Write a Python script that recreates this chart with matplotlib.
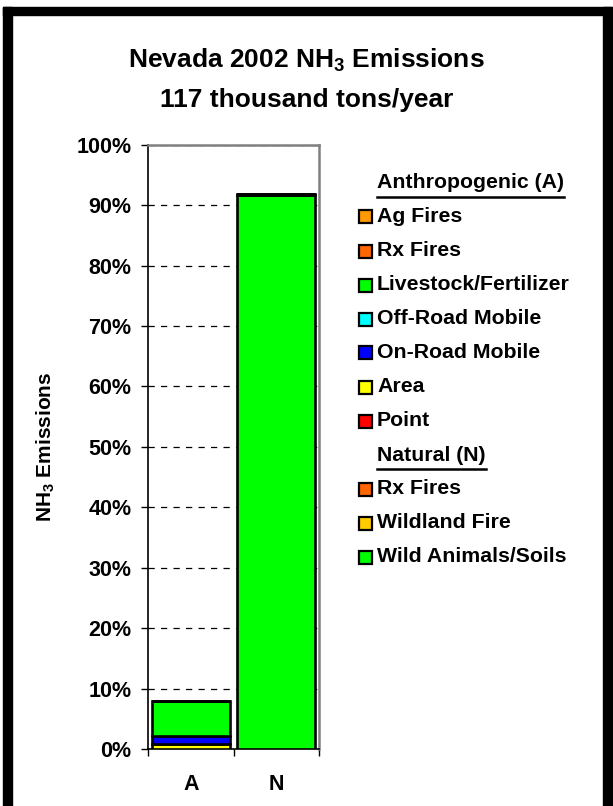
import matplotlib
matplotlib.use("Agg")
import matplotlib.pyplot as plt
from matplotlib.patches import Rectangle
from matplotlib.lines import Line2D
from matplotlib.ticker import MultipleLocator, PercentFormatter, FixedLocator

plt.rcParams["font.family"] = ["Liberation Sans", "DejaVu Sans"]
plt.rcParams["font.weight"] = "bold"
plt.rcParams["axes.labelweight"] = "bold"
plt.rcParams["mathtext.fontset"] = "custom"
plt.rcParams["mathtext.bf"] = "Liberation Sans:bold"
plt.rcParams["mathtext.rm"] = "Liberation Sans:bold"
plt.rcParams["mathtext.default"] = "bf"

# categories on the x axis
categories = ["A", "N"]

# series in stacking order (bottom first), values in % for [A, N]
series_names = [
    "Wild Animals/Soils", "Wildland Fire", "Rx Fires (N)",
    "Point", "Area", "On-Road Mobile", "Off-Road Mobile",
    "Livestock/Fertilizer", "Rx Fires (A)", "Ag Fires",
]
series_colors = [
    "#00FF00", "#FFCC00", "#FF6600",
    "#FF0000", "#FFFF00", "#0000FF", "#00FFFF",
    "#00FF00", "#FF6600", "#FF9900",
]
series_values = [
    [0.0, 91.6], [0.0, 0.2], [0.0, 0.1],
    [0.02, 0.0], [0.8, 0.0], [1.25, 0.0], [0.05, 0.0],
    [5.9, 0.0], [0.0, 0.0], [0.0, 0.0],
]

# legend layout (top to bottom), None colour = group header
legend_labels = [
    "Anthropogenic (A)", "Ag Fires", "Rx Fires", "Livestock/Fertilizer",
    "Off-Road Mobile", "On-Road Mobile", "Area", "Point",
    "Natural (N)", "Rx Fires", "Wildland Fire", "Wild Animals/Soils",
]
legend_colors = [
    None, "#FF9900", "#FF6600", "#00FF00",
    "#00FFFF", "#0000FF", "#FFFF00", "#FF0000",
    None, "#FF6600", "#FFCC00", "#00FF00",
]

W, H = 613, 806
fig = plt.figure(figsize=(W / 100, H / 100), dpi=100)


def fx(px):
    return px / W


def fy(py):
    return 1 - py / H


# thick black frame (bottom edge is off the picture)
for x0, y0, w, h in [(3, 7, 9, 820), (603, 7, 9, 820), (3, 7, 609, 8)]:
    fig.patches.append(Rectangle((fx(x0), fy(y0 + h)), w / W, h / H,
                                 transform=fig.transFigure, color="black"))

fig.text(0.5, fy(60), "Nevada 2002 NH$_3$ Emissions", ha="center",
         va="center", fontsize=19)
fig.text(0.5, fy(100), "117 thousand tons/year", ha="center", va="center",
         fontsize=19)

ax = fig.add_axes([fx(148), fy(749), (319 - 148) / W, (749 - 144.7) / H])
x = list(range(len(categories)))
bottom = [0.0] * len(categories)
for name, color, vals in zip(series_names, series_colors, series_values):
    ax.bar(x, vals, width=0.91, bottom=bottom, color=color,
           edgecolor="black", linewidth=1.9, zorder=3)
    bottom = [b + v for b, v in zip(bottom, vals)]

ax.set_xlim(-0.5, 1.5)
ax.set_ylim(0, 100)
ax.yaxis.set_major_locator(MultipleLocator(10))
ax.yaxis.set_major_formatter(PercentFormatter(decimals=0))
ax.set_xticks(x)
ax.set_xticklabels(categories)
ax.xaxis.set_minor_locator(FixedLocator([-0.5, 0.5, 1.5]))
ax.tick_params(axis="x", which="major", length=0, pad=18, labelsize=15.5)
ax.tick_params(axis="x", which="minor", length=5, width=1, direction="out")
ax.tick_params(axis="y", length=5, width=1, direction="out", pad=7,
               labelsize=15.5)
ax.grid(axis="y", color="black", linestyle=(0, (5, 5)), linewidth=0.9,
        zorder=0)
ax.set_axisbelow(True)
for side in ["top", "right"]:
    ax.spines[side].set_color("#808080")
    ax.spines[side].set_linewidth(1.8)
for side in ["left", "bottom"]:
    ax.spines[side].set_linewidth(1.2)

ax.set_ylabel("NH$_3$ Emissions", fontsize=15, fontweight="bold")
ax.yaxis.set_label_coords((57 - 148) / 171, 0.5)

# legend drawn by hand so group headers can be underlined
fig.canvas.draw()
renderer = fig.canvas.get_renderer()
for i, (label, color) in enumerate(zip(legend_labels, legend_colors)):
    yc = 183 + 34 * i
    t = fig.text(fx(377), fy(yc), label, ha="left", va="center",
                 fontsize=15.3)
    if color is None:
        bb = t.get_window_extent(renderer)
        fig.lines.append(Line2D([fx(377), fx(377) + bb.width / W],
                                [fy(yc + 14), fy(yc + 14)],
                                transform=fig.transFigure, color="black",
                                linewidth=1.8))
    else:
        fig.patches.append(Rectangle((fx(359), fy(yc + 6.5)), 13 / W, 13 / H,
                                     transform=fig.transFigure,
                                     facecolor=color, edgecolor="black",
                                     linewidth=1.6))

fig.savefig("out.png", dpi=100)
